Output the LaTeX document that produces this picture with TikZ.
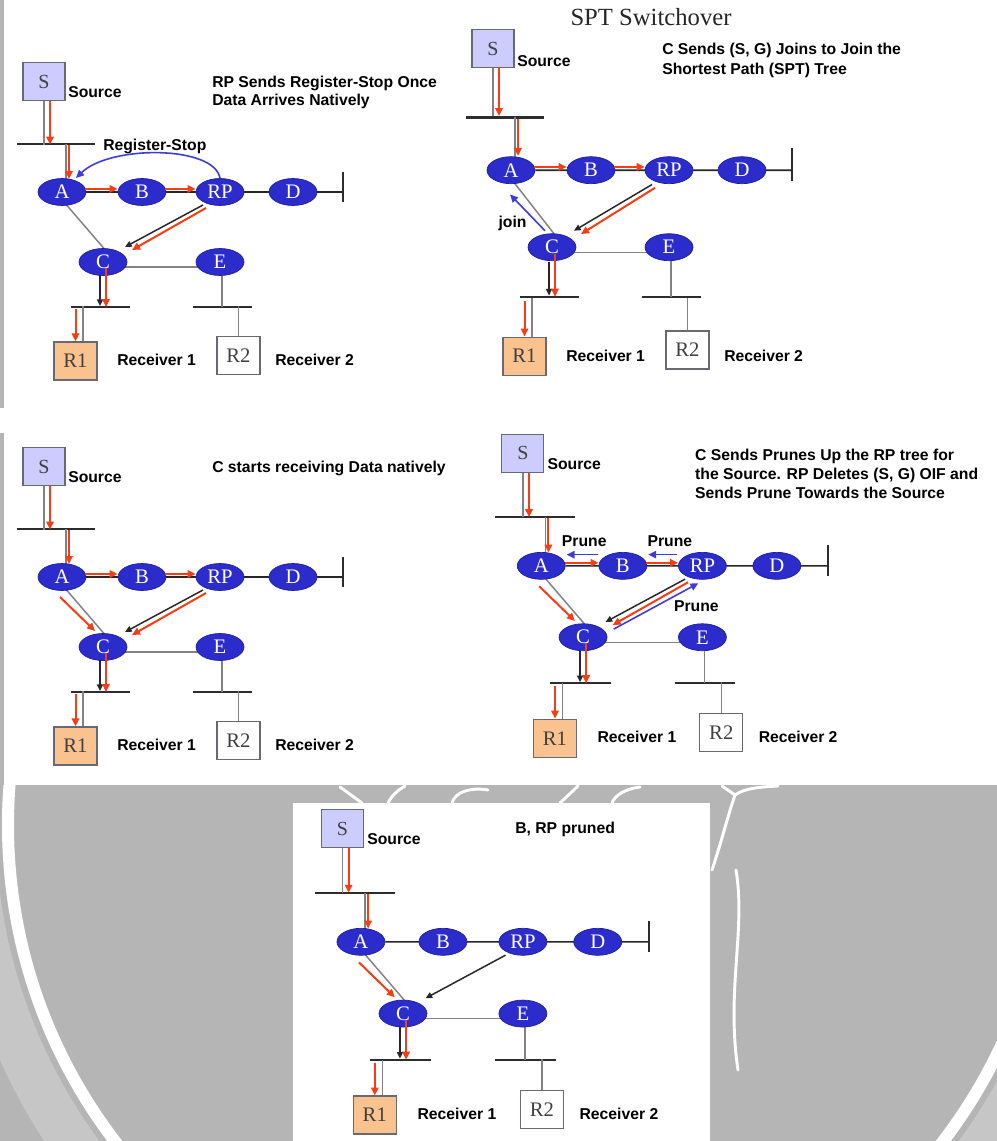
\documentclass[tikz,border=0pt]{standalone}
\usepackage{fontspec}
\setmainfont{Liberation Serif}
\setsansfont{Liberation Sans}
\usetikzlibrary{calc,arrows.meta,shapes.geometric}

\pgfdeclarelayer{backdrop}
\pgfdeclarelayer{wires}
\pgfsetlayers{backdrop,wires,main}

\definecolor{routerblue}{RGB}{44,44,204}
\definecolor{routeredge}{RGB}{30,30,150}
\definecolor{srcfill}{RGB}{204,204,255}
\definecolor{rcvfill}{RGB}{250,194,142}
\definecolor{boxedge}{RGB}{105,105,115}
\definecolor{datared}{RGB}{246,62,22}
\definecolor{ctrlblue}{RGB}{62,62,212}
\definecolor{wiregray}{RGB}{130,130,130}
\definecolor{busline}{RGB}{45,45,45}
\definecolor{pagegray}{RGB}{181,181,181}
\definecolor{sealgray}{RGB}{198,198,198}

\tikzset{
  router/.style={ellipse, fill=routerblue, draw=routeredge, line width=0.5pt,
    minimum width=36pt, minimum height=20.25pt, inner sep=0pt, text=white,
    font=\fontsize{15.5}{16}\selectfont},
  srcbox/.style={rectangle, fill=srcfill, draw=boxedge, line width=0.9pt,
    minimum width=31.5pt, minimum height=28.5pt, inner sep=0pt, text=black!75,
    font=\fontsize{15}{16}\selectfont},
  rcvbox/.style={rectangle, fill=white, draw=boxedge, line width=0.9pt,
    minimum width=32.25pt, minimum height=28.5pt, inner sep=0pt, text=black!75,
    font=\fontsize{15.5}{16}\selectfont},
  lbl/.style={inner sep=0pt, anchor=base west, align=left,
    font=\sffamily\bfseries\fontsize{11.8}{13.3}\selectfont},
  heading/.style={inner sep=0pt, anchor=base, text=black!85,
    font=\fontsize{18.5}{20}\selectfont},
  bus/.style={draw=busline, line width=1.7pt},
  trunk/.style={draw=black!85, line width=1.2pt},
  wire/.style={draw=wiregray, line width=1.1pt},
  data/.style={draw=datared, line width=1.5pt, -{Triangle[length=6pt,width=5.5pt]}},
  ctl/.style={draw=black!85, line width=1.1pt, -{Triangle[length=5pt,width=4.5pt]}},
  sig/.style={draw=ctrlblue, line width=1.2pt, -{Triangle[length=6pt,width=5.5pt]}},
  seal/.style={draw=white, line width=9pt},
  sealline/.style={draw=white, line width=2.2pt, line cap=round},
}

% the network shared by every stage: source, routers, LANs, receivers
\newcommand\netbase{%
  \node[srcbox] (S) at (44,81.5) {S};
  \node[lbl] (src) at (68,97.5) {Source};
  \coordinate (busSw) at (17,144);
  \coordinate (busSe) at (95,144);
  \node[router] (A) at (62,192) {A};
  \node[router] (B) at (142,192) {B};
  \node[router] (RP) at (220,192) {RP};
  \node[router] (D) at (293,192) {D};
  \coordinate (lanend) at (343,192);
  \coordinate (lantop) at (343,172);
  \coordinate (lanbot) at (343,202);
  \node[router] (C) at (103,262) {C};
  \node[router] (E) at (220,262) {E};
  \coordinate (busCw) at (71,307);
  \coordinate (busCe) at (130,307);
  \coordinate (busEw) at (193,307);
  \coordinate (busEe) at (252,307);
  \node[rcvbox, fill=rcvfill] (R1) at (75.5,361) {R1};
  \node[rcvbox] (R2) at (238.5,355.5) {R2};
  \node[lbl] (rx1) at (117,365.5) {Receiver 1};
  \node[lbl] (rx2) at (275,365.5) {Receiver 2};
  \begin{pgfonlayer}{wires}
    \draw[bus] (busSw) -- (busSe);
    \draw[bus] (busCw) -- (busCe);
    \draw[bus] (busEw) -- (busEe);
    \draw[bus] (lantop) -- (lanbot);
    \draw[trunk] (A) -- (lanend);
    \draw[wire] (S.south) -- ($(S.south)+(0,43.5)$);
    \draw[wire] ($(A)+(4,-48)$) -- ($(A)+(4,-5)$);
    \draw[wire] ($(A)+(2,10)$) -- ($(C)+(4,-10)$);
    \draw[wire] ($(C)+(0,5)$) -- ($(E)+(0,5)$);
    \draw[wire] ($(E)+(2,0)$) -- ($(E)+(2,45)$);
    \draw[wire] ($(R1.north)+(7.5,0)$) -- ($(R1.north)+(7.5,-35)$);
    \draw[wire] (R2.north) -- ($(R2.north)+(0,-30)$);
  \end{pgfonlayer}
  \draw[ctl] ($(RP)+(-17,13)$) -- ($(C)+(22,-15)$);
  \draw[ctl] ($(C)+(-3,13)$) -- ($(C)+(-3,44)$);
}
% multicast data flows
\newcommand\flowsource{%
  \draw[data] ($(S.south)+(6,0)$) -- ($(S.south)+(6,43.5)$);
  \draw[data] ($(A)+(7,-47)$) -- ($(A)+(7,-13)$);
}
\newcommand\flowshared{%
  \draw[data] ($(A.east)+(-1,-3)$) -- ($(B.west)+(0,-3)$);
  \draw[data] ($(B.east)+(-1,-3)$) -- ($(RP.west)+(0,-3)$);
  \draw[data] ($(RP)+(-14,16)$) -- ($(C)+(29,-12)$);
}
\newcommand\flownative{\draw[data] ($(A)+(-2,20)$) -- ($(C)+(-8,-16)$);}
\newcommand\flowreceiver{%
  \draw[data] ($(C)+(3,6)$) -- ($(C)+(3,45)$);
  \draw[data] ($(R1.north)+(0,-32)$) -- (R1.north);
}

\begin{document}
\begin{tikzpicture}[x=0.75pt,y=-0.75pt]
\useasboundingbox (0,0) rectangle (996,1141);

\begin{pgfonlayer}{backdrop}
  \fill[pagegray] (-10,-10) rectangle (1006,1151);
  \begin{scope}
    \clip (-10,785) rectangle (1006,1151);
    \draw[sealgray, line width=34pt] (529,825) circle[radius=556];
    \draw[seal] (529,825) circle[radius=521];
  \end{scope}
  % emblem strokes of the seal behind the panels
  \draw[sealline] (340,787) -- (362,803);
  \draw[sealline] (388,803) .. controls (392,795) and (398,790) .. (405,786);
  \draw[sealline] (452,803) .. controls (455,792) and (470,787) .. (488,790);
  \draw[sealline] (560,803) -- (578,786);
  \draw[sealline] (612,803) .. controls (615,795) and (625,789) .. (640,787);
  \draw[sealline] (712,870) .. controls (722,840) and (728,815) .. (735,795);
  \draw[sealline] (735,795) .. controls (745,788) and (760,787) .. (778,786);
  \draw[sealline] (735,795) -- (722,786);
  \draw[sealline] (736,870) .. controls (746,930) and (726,990) .. (738,1070);
  \fill[white] (4,-10) rectangle (1006,785);
  \fill[white] (-10,408) rectangle (4,433);
  \fill[white] (293,803) rectangle (710,1151);
\end{pgfonlayer}

% stage 1: register-stop
\begin{scope}[name prefix=p1-]
  \netbase
  \flowsource \flowshared \flowreceiver
  \draw[sig] (RP.north) .. controls +(-6,-33) and +(34,-33) .. ($(A)+(14,-14)$);
  \node[lbl] (regstop) at (103,150.3) {Register-Stop};
  \node[lbl] (note) at (212,105.7) {RP Sends Register-Stop Once\\Data Arrives Natively};
\end{scope}

% stage 2: (S,G) join towards the source
\node[heading] (title) at (651,26) {SPT Switchover};
\begin{scope}[shift={(449,-41)}, yscale=1.1, name prefix=p2-]
  \netbase
  \flowsource \flowshared \flowreceiver
  \draw[sig] ($(C)+(-7,-15)$) -- ($(A)+(-1,22)$);
  \node[lbl] (joinlbl) at (49.3,244.3) {join};
  \node[lbl, font=\sffamily\bfseries\fontsize{11.8}{15}\selectfont] (note) at (213,104.6)
    {C Sends (S, G) Joins to Join the\\Shortest Path (SPT) Tree};
\end{scope}

% stage 3: data arrives natively at C
\begin{scope}[shift={(0,385)}, name prefix=p3-]
  \netbase
  \flowsource \flowshared \flownative \flowreceiver
  \node[lbl] (note) at (212,87.5) {C starts receiving Data natively};
\end{scope}

% stage 4: prunes up the RP tree
\begin{scope}[shift={(478,370)}, scale=1.02, name prefix=p4-]
  \netbase
  \flowsource \flowshared \flownative \flowreceiver
  \draw[sig] ($(B.west)+(-1,-11)$) -- ($(A.east)+(1,-11)$);
  \draw[sig] ($(RP.west)+(-1,-11)$) -- ($(B.east)+(1,-11)$);
  \draw[sig] ($(C)+(30,-8)$) -- ($(RP)+(-4,17)$);
  \node[lbl] (prune1) at (82,173.2) {Prune};
  \node[lbl] (prune2) at (166,173.2) {Prune};
  \node[lbl] (prune3) at (192,237) {Prune};
  \node[lbl, font=\sffamily\bfseries\fontsize{11.8}{14.4}\selectfont] (note) at (212.7,126.3)
    {C Sends Prunes Up the RP tree for\\the Source. RP Deletes (S, G) OIF and\\Sends Prune Towards the Source};
\end{scope}

% stage 5: shortest path tree only
\begin{scope}[shift={(297.4,745)}, scale=1.025, name prefix=p5-]
  \netbase
  \flowsource \flownative \flowreceiver
  \node[lbl] (note) at (212.3,86.6) {B, RP pruned};
\end{scope}
\end{tikzpicture}
\end{document}
